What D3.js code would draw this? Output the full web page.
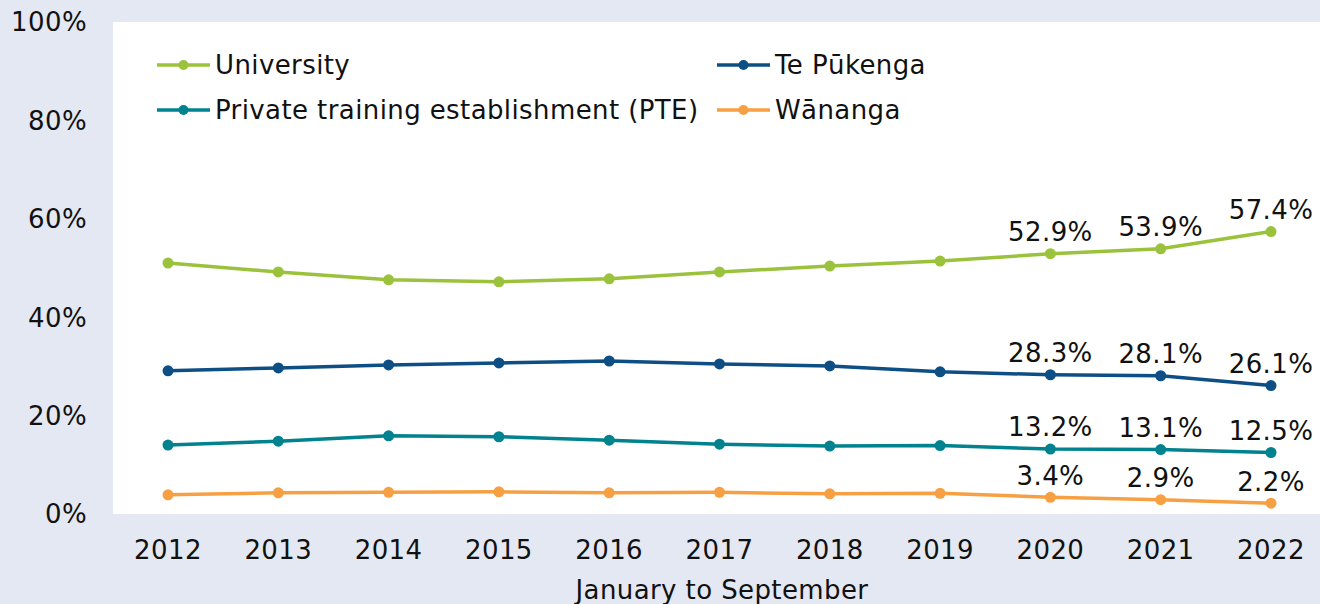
<!DOCTYPE html>
<html>
<head>
<meta charset="utf-8">
<script src="https://cdn.jsdelivr.net/npm/d3@7"></script>
<style>
  body { margin: 0; background: #e4e8f3; }
  svg { display: block; font-family: "DejaVu Sans", Verdana, sans-serif; letter-spacing: 0.4px; }
</style>
</head>
<body>
<svg id="chart"></svg>
<script>
const WIDTH = 1320;
const HEIGHT = 604;

const years = ["2012","2013","2014","2015","2016","2017","2018","2019","2020","2021","2022"];
const university = [51.0, 49.2, 47.6, 47.2, 47.8, 49.2, 50.4, 51.4, 52.9, 53.9, 57.4];
const tePukenga  = [29.1, 29.7, 30.3, 30.7, 31.1, 30.5, 30.1, 28.9, 28.3, 28.1, 26.1];
const pte        = [14.0, 14.8, 15.9, 15.7, 15.0, 14.2, 13.8, 13.9, 13.2, 13.1, 12.5];
const wananga    = [3.9, 4.3, 4.4, 4.5, 4.3, 4.4, 4.1, 4.2, 3.4, 2.9, 2.2];
const yTicks = [0, 20, 40, 60, 80, 100];
const labelFrom = 8; // data labels shown for 2020 onwards

const series = [
  { name: "University", values: university, color: "#9bc23c" },
  { name: "Te Pūkenga", values: tePukenga, color: "#0d4f85" },
  { name: "Private training establishment (PTE)", values: pte, color: "#00828f" },
  { name: "Wānanga", values: wananga, color: "#f6a043" }
];

const FS = 26;

const svg = d3.select("#chart").attr("width", WIDTH).attr("height", HEIGHT);

const plot = { left: 113, top: 22, right: 1320, bottom: 514 };

svg.append("rect")
  .attr("x", plot.left).attr("y", plot.top)
  .attr("width", plot.right - plot.left).attr("height", plot.bottom - plot.top)
  .attr("fill", "white");

const x = d3.scalePoint().domain(years).range([168, 1271]);
const y = d3.scaleLinear().domain([0, 100]).range([plot.bottom, plot.top]);

// y axis labels
svg.append("g").selectAll("text").data(yTicks).enter()
  .append("text")
  .attr("x", 87).attr("y", d => y(d))
  .attr("dy", "0.36em")
  .attr("text-anchor", "end")
  .attr("font-size", FS)
  .attr("fill", "#111")
  .text(d => d + "%");

// x axis labels
svg.append("g").selectAll("text").data(years).enter()
  .append("text")
  .attr("x", d => x(d)).attr("y", 550)
  .attr("dy", "0.36em")
  .attr("text-anchor", "middle")
  .attr("font-size", FS)
  .attr("fill", "#111")
  .text(d => d);

svg.append("text")
  .attr("x", 722).attr("y", 590)
  .attr("dy", "0.36em")
  .attr("text-anchor", "middle")
  .attr("font-size", FS)
  .attr("fill", "#111")
  .text("January to September");

const line = d3.line()
  .x((d, i) => x(years[i]))
  .y(d => y(d));

series.forEach(s => {
  const g = svg.append("g");
  g.append("path")
    .attr("d", line(s.values))
    .attr("fill", "none")
    .attr("stroke", s.color)
    .attr("stroke-width", 3.5);
  g.selectAll("circle").data(s.values).enter()
    .append("circle")
    .attr("cx", (d, i) => x(years[i]))
    .attr("cy", d => y(d))
    .attr("r", 5.5)
    .attr("fill", s.color);
  g.selectAll("text").data(s.values.slice(labelFrom)).enter()
    .append("text")
    .attr("x", (d, i) => x(years[i + labelFrom]))
    .attr("y", d => y(d) - 22)
    .attr("dy", "0.36em")
    .attr("text-anchor", "middle")
    .attr("font-size", FS)
    .attr("fill", "#111")
    .text(d => d.toFixed(1) + "%");
});

// legend
const legendPos = [
  { x: 157, y: 65 }, { x: 717, y: 65 },
  { x: 157, y: 110 }, { x: 717, y: 110 }
];
series.forEach((s, i) => {
  const p = legendPos[i];
  const lg = svg.append("g").attr("transform", `translate(${p.x},${p.y})`);
  lg.append("line")
    .attr("x1", 0).attr("x2", 53).attr("y1", 0).attr("y2", 0)
    .attr("stroke", s.color).attr("stroke-width", 3.5);
  lg.append("circle").attr("cx", 26.5).attr("cy", 0).attr("r", 5).attr("fill", s.color);
  lg.append("text")
    .attr("x", 58).attr("y", 0).attr("dy", "0.36em")
    .attr("font-size", FS)
    .attr("fill", "#111")
    .text(s.name);
});
</script>
</body>
</html>
